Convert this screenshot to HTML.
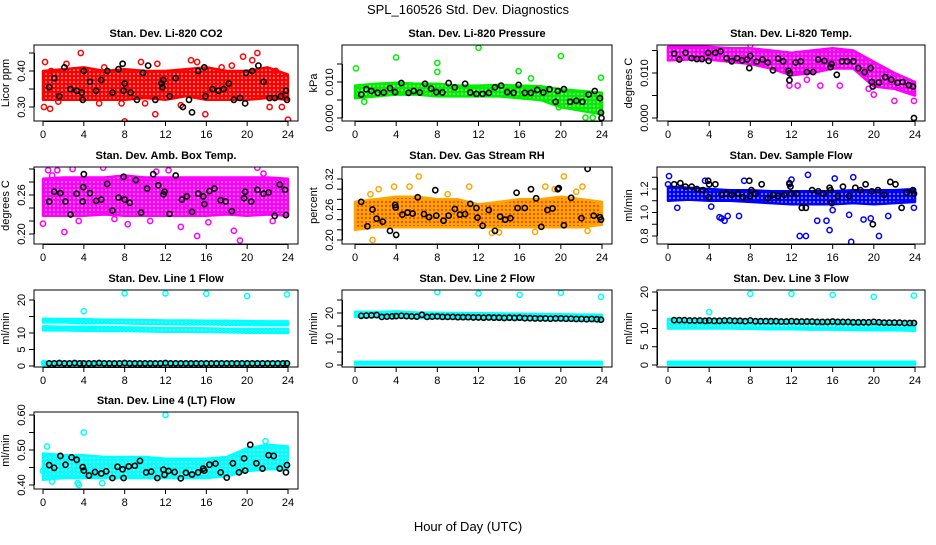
<!DOCTYPE html>
<html><head><meta charset="utf-8"><style>
html,body{margin:0;padding:0;background:#fff;}
svg text{font-family:"Liberation Sans",sans-serif;fill:#000;}
</style></head><body>
<svg id="chart" width="936" height="540" viewBox="0 0 936 540" xmlns="http://www.w3.org/2000/svg">
<defs>
<pattern id="pat-red" width="4" height="4" patternUnits="userSpaceOnUse"><rect width="4" height="4" fill="#ff0000"/><circle cx="2" cy="2" r="0.8" fill="#fff"/></pattern>
<pattern id="pat-green" width="4" height="4" patternUnits="userSpaceOnUse"><rect width="4" height="4" fill="#00ee00"/><circle cx="2" cy="2" r="0.8" fill="#fff"/></pattern>
<pattern id="pat-magenta" width="4" height="4" patternUnits="userSpaceOnUse"><rect width="4" height="4" fill="#ff00ff"/><circle cx="2" cy="2" r="0.8" fill="#fff"/></pattern>
<pattern id="pat-orange" width="4" height="4" patternUnits="userSpaceOnUse"><rect width="4" height="4" fill="#ffa500"/><circle cx="2" cy="2" r="0.9" fill="#ff0000"/></pattern>
<pattern id="pat-blue" width="4" height="4" patternUnits="userSpaceOnUse"><rect width="4" height="4" fill="#0000ff"/><circle cx="2" cy="2" r="0.8" fill="#fff"/></pattern>
<pattern id="pat-cyan" width="4" height="4" patternUnits="userSpaceOnUse"><rect width="4" height="4" fill="#00ffff"/><circle cx="2" cy="2" r="0.8" fill="#fff"/></pattern>
</defs>
<text x="468" y="14" font-size="13" text-anchor="middle">SPL_160526  Std. Dev. Diagnostics</text>
<text x="468" y="531" font-size="13" text-anchor="middle">Hour of Day (UTC)</text>
</svg>
<script>
const bandHours = [0,2,4,6,8,10,12,14,16,18,20,22,24];
const xTicks = [0,4,8,12,16,20,24];
const lineHours = [0.6,1.1,1.6,2.1,2.6,3.1,3.6,4.0,4.5,5.0,5.5,6.0,6.5,7.0,7.5,8.0,8.5,9.0,9.5,10.0,10.5,11.0,11.5,12.0,12.5,13.0,13.5,14.0,14.5,15.0,15.5,16.0,16.5,17.0,17.5,18.0,18.5,19.0,19.5,20.0,20.5,21.0,21.5,22.0,22.5,23.0,23.5,23.9];

// P1 CO2
const co2BandLo = [0.32,0.32,0.32,0.32,0.32,0.325,0.32,0.33,0.32,0.32,0.32,0.325,0.32];
const co2BandHi = [0.40,0.405,0.41,0.40,0.405,0.40,0.40,0.405,0.41,0.40,0.40,0.41,0.39];
const co2OutX = [0.1,0.2,0.7,2.3,3.7,7.7,8.0,9.6,11.2,11.0,14.5,15.1,15.9,19.6,20.5,21.0,22.2,23.4,24.0,0.8,5.5,13.5,17.5,1.5,6.0,10.0,18.5,22.8];
const co2OutY = [0.30,0.425,0.295,0.42,0.45,0.31,0.26,0.425,0.42,0.28,0.43,0.425,0.28,0.44,0.43,0.45,0.30,0.30,0.265,0.40,0.31,0.305,0.41,0.315,0.41,0.31,0.415,0.40];
const co2BlkX = [0.6,1.1,1.6,2.1,2.7,3.3,3.8,3.9,4.0,4.6,5.2,5.7,6.3,6.8,7.4,7.8,7.9,8.0,8.6,9.2,9.8,10.3,11.0,11.6,11.7,11.8,12.4,13.0,13.7,14.3,14.6,15.2,15.8,15.9,16.6,17.2,17.7,18.2,18.7,19.3,19.8,19.9,20.5,21.1,21.6,22.2,22.7,23.3,23.8,23.9];
const co2BlkY = [0.355,0.38,0.33,0.41,0.35,0.345,0.34,0.32,0.40,0.37,0.345,0.375,0.40,0.34,0.405,0.42,0.345,0.365,0.34,0.32,0.395,0.415,0.32,0.365,0.355,0.375,0.33,0.38,0.30,0.32,0.285,0.40,0.41,0.33,0.35,0.345,0.35,0.365,0.32,0.325,0.31,0.395,0.40,0.415,0.37,0.325,0.325,0.33,0.345,0.32];

// P2 pressure
const presBandLo = [0.0055,0.006,0.0065,0.0065,0.006,0.006,0.006,0.006,0.0055,0.005,0.003,0.002,0.001];
const presBandHi = [0.009,0.0095,0.0098,0.0095,0.0095,0.009,0.009,0.0092,0.009,0.0088,0.008,0.0075,0.007];
const presOutX = [0.1,4.0,8.0,8.0,12.0,15.9,17.1,20.0,23.9,0.9,22.4,23.1,19.8];
const presOutY = [0.0138,0.0168,0.0153,0.0128,0.0195,0.0130,0.0110,0.0172,0.0112,0.0045,0.0001,0.0001,0.0030];
const presBlkX = [0.6,1.1,1.6,2.2,2.8,3.4,3.9,4.5,5.2,5.7,6.3,6.8,7.4,7.9,8.5,9.1,9.7,10.7,11.2,11.8,12.4,13.0,13.6,14.2,14.8,15.4,15.9,16.5,17.1,17.7,18.3,18.9,19.5,19.7,20.3,20.9,21.5,22.1,22.7,23.3,23.8,23.9,23.95];
const presBlkY = [0.0065,0.0080,0.0075,0.0070,0.0071,0.0083,0.0072,0.0097,0.0070,0.0075,0.0071,0.0095,0.0082,0.0072,0.0071,0.0097,0.0085,0.0095,0.0071,0.0067,0.0067,0.0070,0.0085,0.0090,0.0072,0.0070,0.0092,0.0070,0.0070,0.0078,0.0071,0.0080,0.0045,0.0075,0.0080,0.0045,0.0048,0.0045,0.0065,0.0075,0.0055,0.0015,0.0000];

// P3 Li-820 temp
const tempBandLo = [0.0128,0.013,0.013,0.0125,0.012,0.011,0.0095,0.010,0.011,0.011,0.007,0.0065,0.005];
const tempBandHi = [0.0158,0.016,0.0158,0.0155,0.0155,0.015,0.0145,0.015,0.0155,0.015,0.0125,0.010,0.008];
const tempOutX = [0.3,1.8,8.0,11.8,12.6,16.7,20.0,22.0,23.9,13.5,14.8,19.5];
const tempOutY = [0.0162,0.0164,0.0162,0.0072,0.0072,0.0072,0.0052,0.0038,0.0038,0.0085,0.0072,0.0065];
const tempBlkX = [0.6,1.1,1.7,2.3,2.8,3.3,3.9,3.95,4.6,5.1,5.7,6.2,6.7,7.2,7.7,7.9,8.0,8.6,9.2,9.7,10.2,10.7,11.2,11.7,11.8,11.85,12.4,12.9,13.5,14.1,14.6,15.2,15.8,15.9,16.4,16.9,17.4,18.0,18.5,19.1,19.7,19.8,19.9,20.5,21.1,21.7,22.3,22.8,23.4,23.8,23.9];
const tempBlkY = [0.0143,0.0130,0.0145,0.0133,0.0131,0.0131,0.0145,0.0127,0.0145,0.0148,0.0133,0.0126,0.0133,0.0128,0.0130,0.0111,0.0138,0.0125,0.0130,0.0123,0.0106,0.0132,0.0126,0.0105,0.0084,0.0099,0.0123,0.0126,0.0102,0.0102,0.0130,0.0127,0.0113,0.0120,0.0096,0.0126,0.0126,0.0126,0.0111,0.0102,0.0111,0.0080,0.0070,0.0079,0.0091,0.0085,0.0078,0.0080,0.0073,0.0070,0.0000];

// P4 amb box temp
const ambBandLo = [0.228,0.228,0.228,0.23,0.228,0.228,0.228,0.228,0.228,0.23,0.228,0.23,0.228];
const ambBandHi = [0.285,0.287,0.287,0.287,0.29,0.287,0.287,0.287,0.287,0.287,0.287,0.287,0.285];
const ambOutX = [0.0,0.5,1.4,2.1,2.9,5.9,7.0,11.1,13.5,15.1,16.2,19.2,19.3,21.0,21.6,8.3,10.5,18.7,3.5,12.3,22.5,0.9];
const ambOutY = [0.216,0.298,0.298,0.203,0.300,0.302,0.223,0.296,0.211,0.197,0.218,0.308,0.190,0.302,0.293,0.215,0.220,0.205,0.22,0.298,0.22,0.29];
const ambBlkX = [0.6,1.1,1.7,2.2,2.7,3.3,3.9,3.95,4.0,4.6,5.2,5.7,6.3,6.8,7.4,7.9,8.0,8.5,9.1,9.6,10.2,10.8,11.3,11.8,11.9,12.4,13.0,13.6,14.1,14.6,15.2,15.7,15.8,16.3,16.8,17.4,17.9,18.5,19.2,19.7,19.8,20.4,21.0,21.6,22.1,22.7,23.2,23.7,23.8];
const ambBlkY = [0.250,0.265,0.263,0.250,0.230,0.262,0.250,0.272,0.292,0.263,0.251,0.253,0.277,0.236,0.256,0.288,0.253,0.248,0.283,0.233,0.270,0.292,0.275,0.261,0.265,0.231,0.290,0.253,0.258,0.234,0.262,0.258,0.246,0.266,0.270,0.252,0.250,0.235,0.310,0.255,0.265,0.250,0.268,0.262,0.264,0.228,0.276,0.268,0.229];

// P5 RH
const rhBandLo = [0.22,0.225,0.225,0.225,0.225,0.225,0.225,0.225,0.225,0.225,0.225,0.225,0.23];
const rhBandHi = [0.275,0.28,0.285,0.285,0.28,0.28,0.27,0.275,0.28,0.28,0.285,0.28,0.275];
const rhOutX = [1.7,2.3,3.8,5.3,6.2,11.1,13.3,17.5,18.5,19.4,20.3,22.1,22.6,1.5,9.0,14.0,21.5];
const rhOutY = [0.200,0.300,0.305,0.305,0.325,0.305,0.214,0.216,0.305,0.300,0.325,0.305,0.218,0.290,0.290,0.215,0.295];
const rhBlkX = [0.6,1.2,1.7,2.1,2.7,3.4,3.9,3.95,4.0,4.6,5.1,5.6,6.1,6.7,7.2,7.8,7.9,8.6,9.1,9.7,10.2,10.7,11.2,11.8,11.9,12.4,13.0,13.6,14.1,14.6,15.1,15.7,15.8,16.5,17.1,17.6,18.1,18.7,19.2,19.7,19.8,20.3,21.0,22.0,22.6,23.2,23.8,23.9];
const rhBlkY = [0.275,0.227,0.260,0.242,0.236,0.218,0.269,0.264,0.210,0.250,0.254,0.252,0.284,0.251,0.245,0.298,0.248,0.238,0.248,0.261,0.250,0.251,0.271,0.263,0.244,0.228,0.259,0.218,0.246,0.240,0.243,0.293,0.263,0.263,0.300,0.282,0.226,0.259,0.262,0.300,0.302,0.229,0.283,0.243,0.340,0.248,0.245,0.240];

// P6 sample flow
const sfBandLo = [1.10,1.11,1.10,1.10,1.09,1.08,1.07,1.07,1.07,1.08,1.07,1.08,1.09];
const sfBandHi = [1.22,1.21,1.20,1.19,1.19,1.18,1.18,1.18,1.18,1.19,1.19,1.19,1.20];
const sfOutX = [0.1,0.9,3.6,4.2,5.0,5.2,5.5,5.8,6.9,12.8,13.4,13.6,14.5,15.4,15.7,16.0,17.6,17.8,18.0,19.0,19.7,20.5,21.4,23.9,12.0,16.2,0.0,11.8,7.4];
const sfOutY = [1.31,1.04,1.27,1.05,0.96,0.95,0.93,0.97,0.97,0.80,0.80,1.32,0.93,0.93,0.85,1.02,0.98,0.75,1.30,0.94,0.95,0.80,0.97,1.04,1.28,1.29,1.24,1.24,1.27];
const sfBlkX = [0.6,1.2,1.7,2.3,2.8,3.4,3.9,3.95,4.0,4.6,5.2,5.7,6.2,6.8,7.3,7.9,8.0,8.1,8.5,9.1,9.7,10.2,10.7,11.3,11.8,11.9,12.0,12.5,13.0,13.4,14.0,14.6,15.1,15.7,15.8,15.9,16.5,17.0,17.6,18.2,18.7,19.2,19.8,19.9,20.4,21.0,21.6,22.1,22.7,23.2,23.8,23.9];
const sfBlkY = [1.24,1.25,1.22,1.22,1.20,1.19,1.27,1.13,1.24,1.24,1.15,1.16,1.15,1.16,1.13,1.27,1.14,1.19,1.16,1.24,1.12,1.15,1.14,1.15,1.25,1.22,1.16,1.16,1.04,1.04,1.19,1.18,1.16,1.21,1.19,1.08,1.14,1.22,1.14,1.21,1.19,1.24,1.18,0.90,1.19,1.15,1.26,1.24,1.04,1.17,1.19,1.16];

// P7 line 1
const l1BandALo = [13.2,13.2,13.0,13.0,12.9,12.8,12.7,12.6,12.6,12.5,12.5,12.4,12.4];
const l1BandAHi = [14.3,14.2,14.2,14.0,14.0,13.9,13.8,13.8,13.7,13.7,13.6,13.5,13.5];
const l1BandBLo = [10.8,10.8,10.7,10.6,10.6,10.5,10.4,10.4,10.3,10.2,10.1,10.1,10.0];
const l1BandBHi = [12.0,11.9,11.9,11.8,11.7,11.6,11.5,11.5,11.4,11.3,11.3,11.2,11.2];
const l1BandCLo = [0.3,0.3,0.3,0.3,0.3,0.3,0.3,0.3,0.3,0.3,0.3,0.3,0.3];
const l1BandCHi = [1.2,1.2,1.2,1.2,1.2,1.2,1.2,1.2,1.2,1.2,1.2,1.2,1.2];
const l1OutX = [4.0,8.0,12.0,16.0,20.0,23.9,0.1];
const l1OutY = [16.6,22.0,22.0,21.9,21.2,21.7,0.9];
const l1BlkY = [0.8,0.8,0.9,0.8,0.8,0.9,0.8,0.8,0.8,0.8,0.9,0.8,0.8,0.8,0.8,0.9,0.8,0.8,0.8,0.8,0.8,0.8,0.8,0.9,0.8,0.8,0.8,0.8,0.8,0.8,0.8,0.8,0.8,0.8,0.8,0.8,0.8,0.8,0.8,0.8,0.8,0.8,0.8,0.8,0.8,0.8,0.8,0.8];

// P8 line 2
const l2BandALo = [18.5,18.5,18.4,18.2,18.0,17.9,17.8,17.6,17.5,17.4,17.2,17.0,16.9];
const l2BandAHi = [20.5,20.4,20.6,20.2,20.1,20.0,19.9,19.8,19.7,19.6,19.5,19.4,19.3];
const l2BandCLo = [0.2,0.2,0.2,0.2,0.2,0.2,0.2,0.2,0.2,0.2,0.2,0.2,0.2];
const l2BandCHi = [1.2,1.2,1.2,1.2,1.2,1.2,1.2,1.2,1.2,1.2,1.2,1.2,1.2];
const l2OutX = [8.0,12.0,16.0,20.0,23.9];
const l2OutY = [28.0,27.5,27.0,27.8,26.2];
const l2BlkY = [18.9,19.0,19.1,19.2,18.5,18.6,18.7,18.8,18.9,18.8,18.7,18.6,19.3,18.5,18.6,18.7,18.5,18.5,18.5,18.4,18.4,18.4,18.3,18.3,18.2,18.3,18.2,18.2,18.1,18.2,18.1,18.2,18.0,18.0,17.9,17.9,17.9,17.8,17.9,17.9,17.8,17.8,17.7,17.7,17.6,17.7,17.6,17.4];

// P9 line 3
const l3BandALo = [10.0,10.0,10.0,10.0,9.9,9.8,9.8,9.7,9.7,9.6,9.5,9.5,9.4];
const l3BandAHi = [12.6,12.5,12.4,12.3,12.2,12.1,12.0,11.9,11.9,11.8,11.7,11.6,11.6];
const l3BandCLo = [0.1,0.1,0.1,0.1,0.1,0.1,0.1,0.1,0.1,0.1,0.1,0.1,0.1];
const l3BandCHi = [0.9,0.9,0.9,0.9,0.9,0.9,0.9,0.9,0.9,0.9,0.9,0.9,0.9];
const l3OutX = [4.0,8.0,12.0,16.0,20.0,23.9];
const l3OutY = [14.5,19.5,19.5,19.2,18.7,19.0];
const l3BlkY = [12.3,12.3,12.3,12.2,12.2,12.2,12.1,12.2,12.1,12.1,12.2,12.2,12.1,12.1,12.0,12.2,12.0,12.0,12.0,12.0,12.0,11.9,11.9,12.0,11.9,11.9,11.9,11.9,11.8,11.8,11.8,11.9,11.8,11.8,11.8,11.7,11.7,11.7,11.7,11.8,11.7,11.6,11.6,11.6,11.6,11.5,11.5,11.5];

// P10 line 4
const l4BandLo = [0.415,0.42,0.42,0.42,0.42,0.42,0.42,0.42,0.42,0.425,0.44,0.445,0.445];
const l4BandHi = [0.49,0.485,0.485,0.48,0.48,0.48,0.475,0.475,0.475,0.48,0.505,0.515,0.51];
const l4OutX = [0.4,3.4,4.0,5.8,12.0,3.5,0.0,0.9,21.8];
const l4OutY = [0.51,0.405,0.55,0.405,0.60,0.40,0.44,0.41,0.525];
const l4BlkX = [0.6,1.1,1.7,2.2,2.8,3.3,3.9,4.0,4.5,5.1,5.7,6.2,6.8,7.3,7.8,7.9,8.4,9.0,9.5,10.1,10.6,11.2,11.8,11.9,12.3,12.9,13.5,14.0,14.6,15.2,15.7,15.8,16.3,16.9,17.4,18.0,18.6,19.2,19.7,19.8,20.3,20.9,21.5,22.1,22.6,23.2,23.8,23.9];
const l4BlkY = [0.457,0.449,0.483,0.458,0.479,0.472,0.451,0.441,0.427,0.437,0.433,0.439,0.420,0.452,0.445,0.420,0.453,0.455,0.469,0.436,0.438,0.420,0.444,0.429,0.440,0.437,0.419,0.435,0.430,0.436,0.447,0.441,0.458,0.461,0.436,0.421,0.462,0.436,0.476,0.441,0.515,0.462,0.447,0.485,0.483,0.447,0.436,0.457];

const NS = 'http://www.w3.org/2000/svg';
const svg = document.getElementById('chart');
const cols = [{bl:34,br:298,x0:43,x24:288},{bl:342,br:612,x0:355,x24:602},{bl:657,br:925,x0:668,x24:915}];
const rows = [{t:45,b:121},{t:167,b:244},{t:290,b:367},{t:412,b:489}];

function mk(tag, attrs, parent){
  const e = document.createElementNS(NS, tag);
  for (const k in attrs) e.setAttribute(k, attrs[k]);
  (parent||svg).appendChild(e);
  return e;
}

const panels = [
 {c:0,r:0,name:'co2',title:'Stan. Dev. Li-820 CO2',ylab:'Licor ppm',v0:0.30,p0:107,v1:0.40,p1:71,ticks:[0.30,0.35,0.40,0.45],labs:['0.30',null,'0.40',null],col:'#ff0000',pat:'pat-red',bands:[[co2BandLo,co2BandHi]],ox:co2OutX,oy:co2OutY,bx:co2BlkX,by:co2BlkY},
 {c:1,r:0,name:'pressure',title:'Stan. Dev. Li-820 Pressure',ylab:'kPa',v0:0,p0:118,v1:0.010,p1:82,ticks:[0,0.005,0.010,0.015],labs:['0.000',null,'0.010',null],col:'#00ee00',pat:'pat-green',bands:[[presBandLo,presBandHi]],ox:presOutX,oy:presOutY,bx:presBlkX,by:presBlkY},
 {c:2,r:0,name:'li820-temp',title:'Stan. Dev. Li-820 Temp.',ylab:'degrees C',v0:0,p0:118,v1:0.010,p1:73,ticks:[0,0.005,0.010,0.015],labs:['0.000',null,'0.010',null],col:'#ff00ff',pat:'pat-magenta',bands:[[tempBandLo,tempBandHi]],ox:tempOutX,oy:tempOutY,bx:tempBlkX,by:tempBlkY},
 {c:0,r:1,name:'amb-box-temp',title:'Stan. Dev. Amb. Box Temp.',ylab:'degrees C',v0:0.20,p0:234,v1:0.26,p1:195,ticks:[0.20,0.22,0.24,0.26,0.28,0.30],labs:['0.20',null,null,'0.26',null,null],col:'#ff00ff',pat:'pat-magenta',bands:[[ambBandLo,ambBandHi]],ox:ambOutX,oy:ambOutY,bx:ambBlkX,by:ambBlkY},
 {c:1,r:1,name:'gas-stream-rh',title:'Stan. Dev. Gas Stream RH',ylab:'percent',v0:0.20,p0:240,v1:0.32,p1:179,ticks:[0.20,0.22,0.24,0.26,0.28,0.30,0.32],labs:['0.20',null,null,'0.26',null,null,'0.32'],col:'#ffa500',pat:'pat-orange',bands:[[rhBandLo,rhBandHi]],ox:rhOutX,oy:rhOutY,bx:rhBlkX,by:rhBlkY},
 {c:2,r:1,name:'sample-flow',title:'Stan. Dev. Sample Flow',ylab:'ml/min',v0:0.8,p0:236,v1:1.2,p1:189,ticks:[0.8,0.9,1.0,1.1,1.2,1.3],labs:['0.8',null,'1.0',null,'1.2',null],col:'#0000ff',pat:'pat-blue',bands:[[sfBandLo,sfBandHi]],ox:sfOutX,oy:sfOutY,bx:sfBlkX,by:sfBlkY},
 {c:0,r:2,name:'line1-flow',title:'Stan. Dev. Line 1 Flow',ylab:'ml/min',v0:0,p0:366,v1:20,p1:300,ticks:[0,5,10,15,20],labs:['0','5','10',null,'20'],col:'#00ffff',pat:'pat-cyan',bands:[[l1BandALo,l1BandAHi],[l1BandBLo,l1BandBHi],[l1BandCLo,l1BandCHi]],ox:l1OutX,oy:l1OutY,bx:lineHours,by:l1BlkY},
 {c:1,r:2,name:'line2-flow',title:'Stan. Dev. Line 2 Flow',ylab:'ml/min',v0:0,p0:365,v1:20,p1:313,ticks:[0,5,10,15,20,25],labs:['0',null,'10',null,'20',null],col:'#00ffff',pat:'pat-cyan',bands:[[l2BandALo,l2BandAHi],[l2BandCLo,l2BandCHi]],ox:l2OutX,oy:l2OutY,bx:lineHours,by:l2BlkY},
 {c:2,r:2,name:'line3-flow',title:'Stan. Dev. Line 3 Flow',ylab:'ml/min',v0:0,p0:365,v1:20,p1:292,ticks:[0,5,10,15,20],labs:['0','5','10',null,'20'],col:'#00ffff',pat:'pat-cyan',bands:[[l3BandALo,l3BandAHi],[l3BandCLo,l3BandCHi]],ox:l3OutX,oy:l3OutY,bx:lineHours,by:l3BlkY},
 {c:0,r:3,name:'line4-flow',title:'Stan. Dev. Line 4 (LT) Flow',ylab:'ml/min',v0:0.40,p0:485,v1:0.60,p1:415,ticks:[0.40,0.45,0.50,0.55,0.60],labs:['0.40',null,'0.50',null,'0.60'],col:'#00ffff',pat:'pat-cyan',bands:[[l4BandLo,l4BandHi]],ox:l4OutX,oy:l4OutY,bx:l4BlkX,by:l4BlkY}
];

panels.forEach(p => {
  const C = cols[p.c], R = rows[p.r];
  const xs = h => C.x0 + (C.x24 - C.x0) * h / 24;
  const ys = v => p.p0 + (p.p1 - p.p0) * (v - p.v0) / (p.v1 - p.v0);
  const g = mk('g', {});
  
  
  const clip = mk('clipPath', {id:'clip-' + p.name}, g);
  mk('rect', {x:C.bl, y:R.t, width:C.br - C.bl, height:R.b - R.t}, clip);
  const data = mk('g', {'clip-path':'url(#clip-' + p.name + ')'}, g);
  p.bands.forEach((b, bi) => {
    const lo = b[0], hi = b[1];
    let pts = [];
    for (let i = 0; i < bandHours.length; i++) pts.push(xs(bandHours[i]).toFixed(1) + ',' + ys(hi[i]).toFixed(1));
    for (let i = bandHours.length - 1; i >= 0; i--) pts.push(xs(bandHours[i]).toFixed(1) + ',' + ys(lo[i]).toFixed(1));
    const poly = mk('polygon', {points:pts.join(' '), fill:'url(#' + p.pat + ')', stroke:p.col, 'stroke-width':2.5, 'stroke-linejoin':'round'}, data);
    
    
  });
  for (let i = 0; i < Math.min(p.ox.length, p.oy.length); i++) {
    const c = mk('circle', {cx:xs(p.ox[i]), cy:ys(p.oy[i]), r:2.6, fill:'none', stroke:p.col, 'stroke-width':1.5}, data);
    
    
  }
  for (let i = 0; i < Math.min(p.bx.length, p.by.length); i++) {
    const c = mk('circle', {cx:xs(p.bx[i]), cy:ys(p.by[i]), r:2.6, fill:'none', stroke:'#000', 'stroke-width':1.6}, data);
    
    
  }
  const box = mk('rect', {x:C.bl, y:R.t, width:C.br - C.bl, height:R.b - R.t, fill:'none', stroke:'#000', 'stroke-width':1}, g);
  
  
  // x axis
  mk('line', {x1:xs(0), x2:xs(24), y1:R.b + 0.5, y2:R.b + 0.5, stroke:'#000'}, g);
  xTicks.forEach(t => {
    mk('line', {x1:xs(t), x2:xs(t), y1:R.b, y2:R.b + 5, stroke:'#000'}, g);
    const tl = mk('text', {x:xs(t), y:R.b + 17, 'font-size':11, 'text-anchor':'middle'}, g);
    tl.textContent = t;
    
    
  });
  // y axis
  const yA = ys(p.ticks[0]), yB = ys(p.ticks[p.ticks.length - 1]);
  mk('line', {x1:C.bl + 0.5, x2:C.bl + 0.5, y1:yA, y2:yB, stroke:'#000'}, g);
  p.ticks.forEach((t, i) => {
    const y = ys(t);
    mk('line', {x1:C.bl - 5, x2:C.bl, y1:y, y2:y, stroke:'#000'}, g);
    if (p.labs[i]) {
      const tl = mk('text', {x:0, y:0, 'font-size':11, 'text-anchor':'middle', transform:'translate(' + (C.bl - 9) + ',' + y + ') rotate(-90)'}, g);
      tl.textContent = p.labs[i];
      
      
    }
  });
  const yl = mk('text', {x:0, y:0, 'font-size':11, 'text-anchor':'middle', transform:'translate(' + (C.bl - 25) + ',' + ((R.t + R.b) / 2) + ') rotate(-90)'}, g);
  yl.textContent = p.ylab;
  
  
  const tt = mk('text', {x:(C.bl + C.br) / 2, y:R.t - 8, 'font-size':11, 'font-weight':'bold', 'text-anchor':'middle'}, g);
  tt.textContent = p.title;
  
  
});
</script>
</body></html>
